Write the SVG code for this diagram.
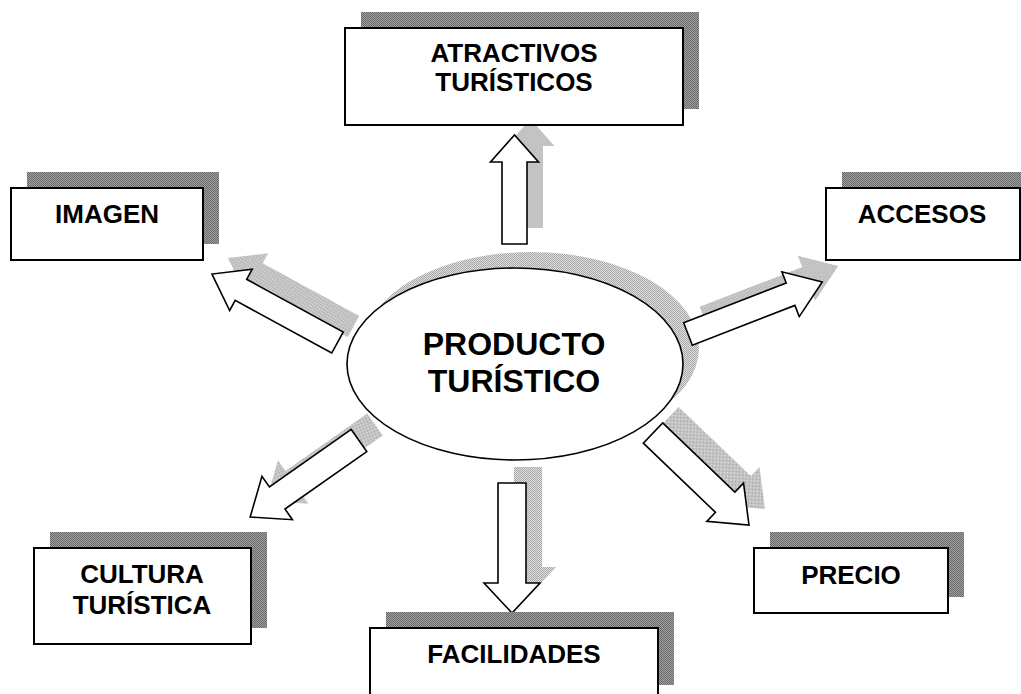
<svg xmlns="http://www.w3.org/2000/svg" width="1021" height="694" viewBox="0 0 1021 694">
<defs>
<pattern id="dark" width="2" height="2" patternUnits="userSpaceOnUse"><rect width="2" height="2" fill="#a0a0a0"/><rect width="1" height="1" fill="#6a6a6a"/><rect x="1" y="1" width="1" height="1" fill="#6a6a6a"/></pattern>
<pattern id="light" width="2" height="2" patternUnits="userSpaceOnUse"><rect width="2" height="2" fill="#dedede"/><rect width="1" height="1" fill="#a8a8a8"/><rect x="1" y="1" width="1" height="1" fill="#a8a8a8"/></pattern>
</defs>
<style>
.box{fill:#fff;stroke:#000;stroke-width:2}
.bsh{fill:url(#dark)}
.ash{fill:url(#light)}
.arr{fill:#fff;stroke:#000;stroke-width:1.6;stroke-linejoin:miter}
.ell{fill:#fff;stroke:#000;stroke-width:1.6}
.t{font-family:"Liberation Sans",Arial,sans-serif;font-weight:bold;font-size:26px;text-anchor:middle;fill:#000}
.big{font-size:32px}
</style>
<g id="shadows">
<ellipse class="ash" cx="531" cy="348" rx="168" ry="96"/>
<g transform="translate(16,-16)">
<polygon class="ash" transform="translate(514.5,244) rotate(-90)" points="0,-12.5 82,-12.5 82,-24 109,0 82,24 82,12.5 0,12.5"/>
<polygon class="ash" transform="translate(512,483) rotate(90)" points="0,-14 100,-14 100,-28 130,0 100,28 100,14 0,14"/>
<polygon class="ash" transform="translate(337.5,342.5) rotate(208.6)" points="0,-12 110,-12 110,-23.5 143,0 110,23.5 110,12 0,12"/>
<polygon class="ash" transform="translate(688,334) rotate(-21.2)" points="0,-12 110,-12 110,-24 144,0 110,24 110,12 0,12"/>
<polygon class="ash" transform="translate(359,440.5) rotate(144.9)" points="0,-13.5 100,-13.5 100,-26.5 133,0 100,26.5 100,13.5 0,13.5"/>
<polygon class="ash" transform="translate(653,433) rotate(43.8)" points="0,-14 100,-14 100,-26.5 133,0 100,26.5 100,14 0,14"/>
</g>
</g>
<g id="connectors">
<polygon class="arr" transform="translate(514.5,244) rotate(-90)" points="0,-12.5 82,-12.5 82,-24 109,0 82,24 82,12.5 0,12.5"/>
<polygon class="arr" transform="translate(512,483) rotate(90)" points="0,-14 100,-14 100,-28 130,0 100,28 100,14 0,14"/>
<polygon class="arr" transform="translate(337.5,342.5) rotate(208.6)" points="0,-12 110,-12 110,-23.5 143,0 110,23.5 110,12 0,12"/>
<polygon class="arr" transform="translate(688,334) rotate(-21.2)" points="0,-12 110,-12 110,-24 144,0 110,24 110,12 0,12"/>
<polygon class="arr" transform="translate(359,440.5) rotate(144.9)" points="0,-13.5 100,-13.5 100,-26.5 133,0 100,26.5 100,13.5 0,13.5"/>
<polygon class="arr" transform="translate(653,433) rotate(43.8)" points="0,-14 100,-14 100,-26.5 133,0 100,26.5 100,14 0,14"/>
</g>
<g id="producto">
<ellipse class="ell" cx="515" cy="364" rx="168" ry="96"/>
<text class="t big" x="514" y="355">PRODUCTO</text>
<text class="t big" x="514" y="392">TURÍSTICO</text>
</g>
<g id="atractivos">
<rect class="bsh" x="361" y="12" width="338" height="97"/>
<rect class="box" x="345" y="28" width="338" height="97"/>
<text class="t" x="514" y="62">ATRACTIVOS</text>
<text class="t" x="514" y="91">TURÍSTICOS</text>
</g>
<g id="imagen">
<rect class="bsh" x="27" y="172" width="192" height="72"/>
<rect class="box" x="11" y="188" width="192" height="72"/>
<text class="t" x="107" y="223">IMAGEN</text>
</g>
<g id="accesos">
<rect class="bsh" x="842" y="172" width="194" height="72"/>
<rect class="box" x="826" y="188" width="194" height="72"/>
<text class="t" x="922" y="223">ACCESOS</text>
</g>
<g id="cultura">
<rect class="bsh" x="50" y="532" width="217" height="96"/>
<rect class="box" x="34" y="548" width="217" height="96"/>
<text class="t" x="142" y="583">CULTURA</text>
<text class="t" x="142" y="614">TURÍSTICA</text>
</g>
<g id="facilidades">
<rect class="bsh" x="386" y="612" width="288" height="73"/>
<rect class="box" x="370" y="628" width="288" height="73"/>
<text class="t" x="514" y="663">FACILIDADES</text>
</g>
<g id="precio">
<rect class="bsh" x="770" y="532" width="194" height="65"/>
<rect class="box" x="754" y="548" width="194" height="65"/>
<text class="t" x="851" y="584">PRECIO</text>
</g>
</svg>
